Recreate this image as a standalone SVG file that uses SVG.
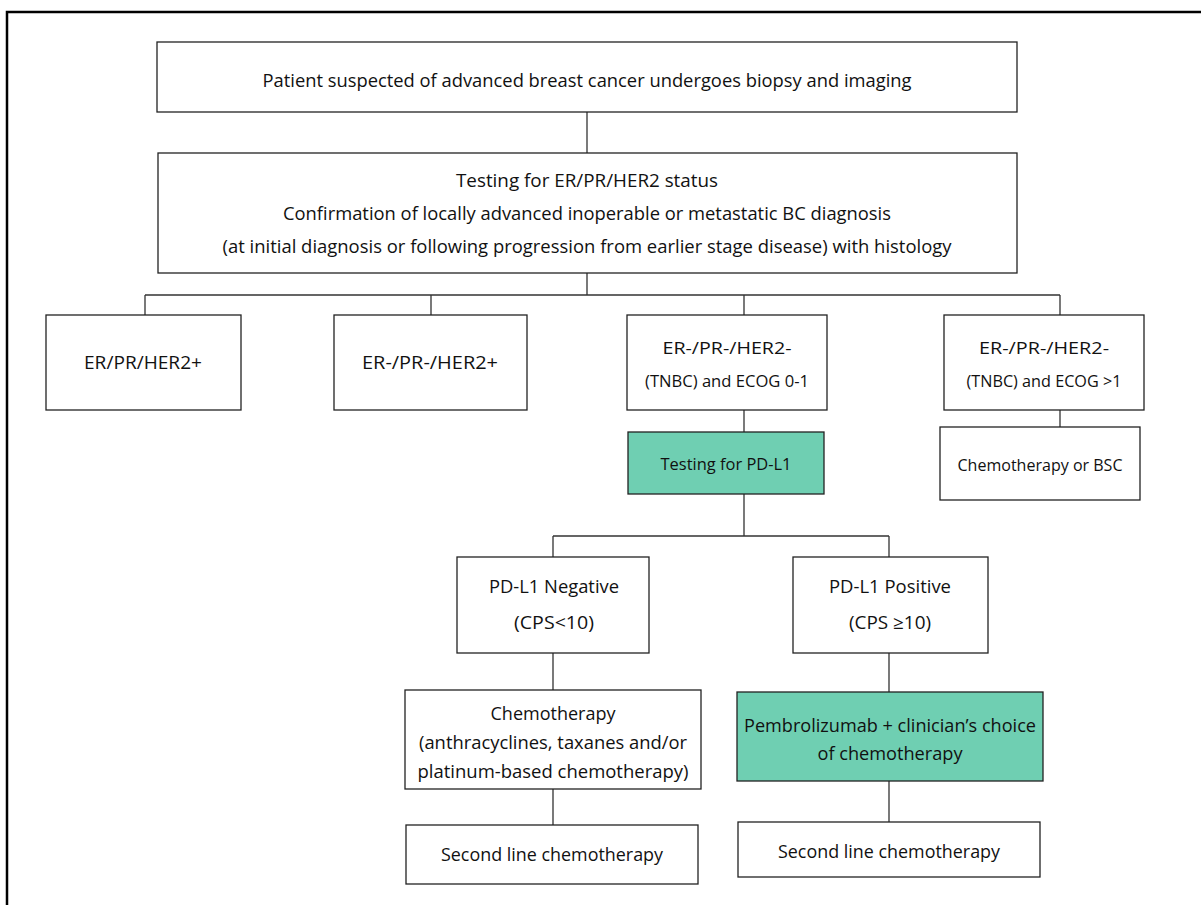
<svg xmlns="http://www.w3.org/2000/svg" width="1201" height="905" viewBox="0 0 1201 905">
<style>
.box{fill:#fff;stroke:#222;stroke-width:1.3}
.green{fill:#6fcfb2;stroke:#222;stroke-width:1.3}
.t{font-family:"Open Sans","Noto Sans",sans-serif;font-size:18px;fill:#111;text-anchor:middle}
.s{font-size:17px}
.c{fill:none;stroke:#333;stroke-width:1.3}
</style>
<rect width="1201" height="905" fill="#fff"/>
<path d="M7,905 V12 H1201" fill="none" stroke="#000" stroke-width="2.5"/>
<g id="connectors">
<path class="c" d="M587,112 V153"/>
<path class="c" d="M587,273 V295 M145,295 H1060 M145,295 V315 M431,295 V315 M744,295 V315 M1060,295 V315"/>
<path class="c" d="M744,410 V432"/>
<path class="c" d="M1060,410 V427"/>
<path class="c" d="M744,494 V536 M553,536 H889 M553,536 V557 M889,536 V557"/>
<path class="c" d="M553,653 V690 M889,653 V692"/>
<path class="c" d="M553,789 V825 M889,781 V822"/>
</g>
<g id="n1"><rect class="box" x="157" y="42" width="860" height="70"/><text class="t" x="587" y="87" textLength="649" lengthAdjust="spacingAndGlyphs">Patient suspected of advanced breast cancer undergoes biopsy and imaging</text></g>
<g id="n2"><rect class="box" x="158" y="153" width="859" height="120"/><text class="t" x="587" y="187" textLength="262" lengthAdjust="spacingAndGlyphs">Testing for ER/PR/HER2 status</text><text class="t" x="587" y="220" textLength="608" lengthAdjust="spacingAndGlyphs">Confirmation of locally advanced inoperable or metastatic BC diagnosis</text><text class="t" x="587" y="253" textLength="729" lengthAdjust="spacingAndGlyphs">(at initial diagnosis or following progression from earlier stage disease) with histology</text></g>
<g id="n3"><rect class="box" x="46" y="315" width="195" height="95"/><text class="t" x="143" y="369" textLength="118" lengthAdjust="spacingAndGlyphs">ER/PR/HER2+</text></g>
<g id="n4"><rect class="box" x="334" y="315" width="193" height="95"/><text class="t" x="430" y="369" textLength="136" lengthAdjust="spacingAndGlyphs">ER-/PR-/HER2+</text></g>
<g id="n5"><rect class="box" x="627" y="315" width="200" height="95"/><text class="t s" x="727" y="354" textLength="129" lengthAdjust="spacingAndGlyphs">ER-/PR-/HER2-</text><text class="t s" x="727" y="387" textLength="164" lengthAdjust="spacingAndGlyphs">(TNBC) and ECOG 0-1</text></g>
<g id="n6"><rect class="box" x="944" y="315" width="200" height="95"/><text class="t s" x="1044" y="354" textLength="130" lengthAdjust="spacingAndGlyphs">ER-/PR-/HER2-</text><text class="t s" x="1044" y="387" textLength="155" lengthAdjust="spacingAndGlyphs">(TNBC) and ECOG &gt;1</text></g>
<g id="n7"><rect class="green" x="628" y="432" width="196" height="62"/><text class="t s" x="726" y="470" textLength="131" lengthAdjust="spacingAndGlyphs">Testing for PD-L1</text></g>
<g id="n8"><rect class="box" x="940" y="427" width="200" height="73"/><text class="t s" x="1040" y="471" textLength="165" lengthAdjust="spacingAndGlyphs">Chemotherapy or BSC</text></g>
<g id="n9"><rect class="box" x="457" y="557" width="192" height="96"/><text class="t" x="554" y="593" textLength="130" lengthAdjust="spacingAndGlyphs">PD-L1 Negative</text><text class="t" x="554" y="629" textLength="80" lengthAdjust="spacingAndGlyphs">(CPS&lt;10)</text></g>
<g id="n10"><rect class="box" x="793" y="557" width="195" height="96"/><text class="t" x="890" y="593" textLength="122" lengthAdjust="spacingAndGlyphs">PD-L1 Positive</text><text class="t" x="890" y="629" textLength="82" lengthAdjust="spacingAndGlyphs">(CPS ≥10)</text></g>
<g id="n11"><rect class="box" x="405" y="690" width="296" height="99"/><text class="t" x="553" y="720" textLength="125" lengthAdjust="spacingAndGlyphs">Chemotherapy</text><text class="t" x="553" y="749" textLength="268" lengthAdjust="spacingAndGlyphs">(anthracyclines, taxanes and/or</text><text class="t" x="553" y="778" textLength="271" lengthAdjust="spacingAndGlyphs">platinum-based chemotherapy)</text></g>
<g id="n12"><rect class="green" x="737" y="692" width="306" height="89"/><text class="t" x="890" y="732" textLength="292" lengthAdjust="spacingAndGlyphs">Pembrolizumab + clinician’s choice</text><text class="t" x="890" y="760" textLength="145" lengthAdjust="spacingAndGlyphs">of chemotherapy</text></g>
<g id="n13"><rect class="box" x="406" y="825" width="292" height="59"/><text class="t" x="552" y="861" textLength="222" lengthAdjust="spacingAndGlyphs">Second line chemotherapy</text></g>
<g id="n14"><rect class="box" x="738" y="822" width="302" height="55"/><text class="t" x="889" y="858" textLength="222" lengthAdjust="spacingAndGlyphs">Second line chemotherapy</text></g>
</svg>
